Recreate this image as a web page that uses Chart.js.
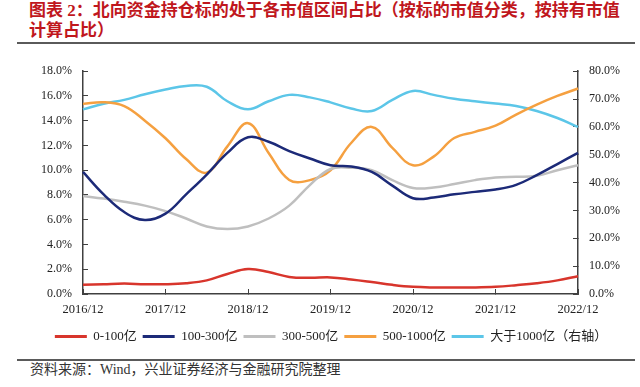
<!DOCTYPE html>
<html>
<head>
<meta charset="utf-8">
<script src="https://cdn.jsdelivr.net/npm/chart.js@4.4.0/dist/chart.umd.min.js"></script>
<style>
  body { margin: 0; width: 640px; height: 387px; background: #fff; position: relative; overflow: hidden; font-family: 'Liberation Serif', 'Noto Sans CJK SC', serif; }
  #title { position: absolute; left: 29px; top: 1px; font-size: 17px; line-height: 20px; font-weight: bold; color: #c0171d; font-family: 'Liberation Serif', 'Noto Sans CJK SC', serif; white-space: nowrap; }
  .rule { position: absolute; left: 17px; width: 618px; height: 0; border-top: 2px solid #5a5a5a; }
  #src { position: absolute; left: 30px; top: 361px; font-size: 14px; line-height: 18px; color: #333; }
  #wrap { position: absolute; left: 0; top: 48px; width: 640px; height: 305px; }
</style>
</head>
<body>
<div id="title">图表 2：北向资金持仓标的处于各市值区间占比（按标的市值分类，按持有市值<br>计算占比）</div>
<div class="rule" style="top:42px"></div>
<div id="wrap"><canvas id="my-chart"></canvas></div>
<div class="rule" style="top:359px"></div>
<div id="src">资料来源：Wind，兴业证券经济与金融研究院整理</div>
<script>
'use strict';

// *************** DATA (quarter ends)
const periods = ['2016/12', '2017/03', '2017/06', '2017/09', '2017/12', '2018/03', '2018/06', '2018/09',
  '2018/12', '2019/03', '2019/06', '2019/09', '2019/12', '2020/03', '2020/06', '2020/09',
  '2020/12', '2021/03', '2021/06', '2021/09', '2021/12', '2022/03', '2022/06', '2022/09', '2022/12'];

const seriesNames = ['0-100亿', '100-300亿', '300-500亿', '500-1000亿', '大于1000亿（右轴）'];

// left axis, %
const cap0to100 = [0.74, 0.79, 0.84, 0.79, 0.79, 0.87, 1.10, 1.62, 2.01, 1.77, 1.38, 1.31, 1.34,
  1.18, 0.97, 0.74, 0.58, 0.53, 0.53, 0.53, 0.58, 0.71, 0.87, 1.10, 1.44];
const cap100to300 = [9.86, 8.05, 6.62, 5.97, 6.49, 8.05, 9.65, 11.4, 12.66, 12.3, 11.55, 10.95, 10.4,
  10.3, 9.86, 8.76, 7.74, 7.79, 8.05, 8.25, 8.44, 8.82, 9.6, 10.5, 11.4];
const cap300to500 = [7.92, 7.71, 7.45, 7.14, 6.7, 6.1, 5.46, 5.25, 5.46, 6.1, 7.14, 8.8, 10.1,
  10.2, 10.0, 9.2, 8.57, 8.6, 8.88, 9.2, 9.42, 9.47, 9.55, 10.0, 10.4];
const cap500to1000 = [15.36, 15.49, 15.18, 14.0, 12.58, 10.9, 9.81, 11.93, 13.8, 11.4, 9.21, 9.2, 10.0,
  12.2, 13.5, 11.8, 10.4, 11.1, 12.6, 13.1, 13.6, 14.5, 15.3, 16.0, 16.6];
// right axis, %
const capOver1000 = [66.3, 68.3, 69.7, 71.7, 73.4, 74.7, 74.4, 69.2, 66.3, 69.2, 71.5, 70.6, 68.8,
  66.6, 65.7, 69.7, 72.9, 71.5, 70.1, 69.2, 68.4, 67.5, 65.7, 63.2, 60.0];

const leftTicks = [0, 18, 2];
const rightTicks = [0, 80, 10];

const colors = ['#d8352c', '#1c2a78', '#bfbfbf', '#f5a040', '#5cc6e8'];

// *************** CHART
const axisFont = { family: "'Liberation Serif', 'Noto Sans CJK SC', serif", size: 12 };
const axisColor = '#404040';

function makeSet(i, values, axis) {
  return {
    label: seriesNames[i],
    data: values,
    yAxisID: axis,
    borderColor: colors[i],
    backgroundColor: colors[i],
    borderWidth: 2.5,
    pointRadius: 0,
    tension: 0.4,
    fill: false
  };
}

let ctx = document.getElementById('my-chart').getContext('2d');
let myChart = new Chart(ctx, { // eslint-disable-line
  type: 'line',
  data: {
    labels: periods,
    datasets: [
      makeSet(0, cap0to100, 'y'),
      makeSet(1, cap100to300, 'y'),
      makeSet(2, cap300to500, 'y'),
      makeSet(3, cap500to1000, 'y'),
      makeSet(4, capOver1000, 'y1')
    ]
  },
  options: {
    responsive: true,
    maintainAspectRatio: false,
    animation: false,
    layout: { padding: { left: 22, top: 14, right: 0, bottom: 0 } },
    plugins: {
      tooltip: { enabled: false },
      legend: {
        position: 'bottom',
        labels: {
          boxWidth: 32,
          boxHeight: 3,
          padding: 6,
          color: '#222',
          font: { family: "'Liberation Serif', 'Noto Sans CJK SC', serif", size: 13 },
          generateLabels: function (chart) {
            let items = Chart.defaults.plugins.legend.labels.generateLabels(chart);
            items.forEach(function (it) { it.lineWidth = 0; });
            return items;
          }
        }
      }
    },
    scales: {
      x: {
        offset: false,
        border: { display: true, color: axisColor, width: 1.5 },
        grid: { drawOnChartArea: false, color: axisColor, tickLength: -5, lineWidth: 1 },
        ticks: {
          autoSkip: false,
          maxRotation: 0,
          padding: 13,
          color: '#222',
          font: { family: axisFont.family, size: 12.5 },
          callback: function (value, index) {
            let lab = periods[index];
            return lab.endsWith('/12') ? lab : null;
          }
        },
        afterFit: function (scale) { scale.height = 30; }
      },
      y: {
        position: 'left',
        min: leftTicks[0],
        max: leftTicks[1],
        border: { display: true, color: axisColor, width: 1.5 },
        grid: { drawOnChartArea: false, color: axisColor, tickLength: -5, lineWidth: 1 },
        ticks: {
          stepSize: leftTicks[2],
          padding: 16,
          color: '#222',
          font: axisFont,
          callback: function (v) { return v.toFixed(1) + '%'; }
        },
        afterFit: function (scale) { scale.width = 61; }
      },
      y1: {
        position: 'right',
        min: rightTicks[0],
        max: rightTicks[1],
        border: { display: true, color: axisColor, width: 1.5 },
        grid: { drawOnChartArea: false, color: axisColor, tickLength: -5, lineWidth: 1 },
        ticks: {
          stepSize: rightTicks[2],
          padding: 16,
          color: '#222',
          font: axisFont,
          callback: function (v) { return v.toFixed(1) + '%'; }
        },
        afterFit: function (scale) { scale.width = 62; }
      }
    }
  }
});
</script>
</body>
</html>
